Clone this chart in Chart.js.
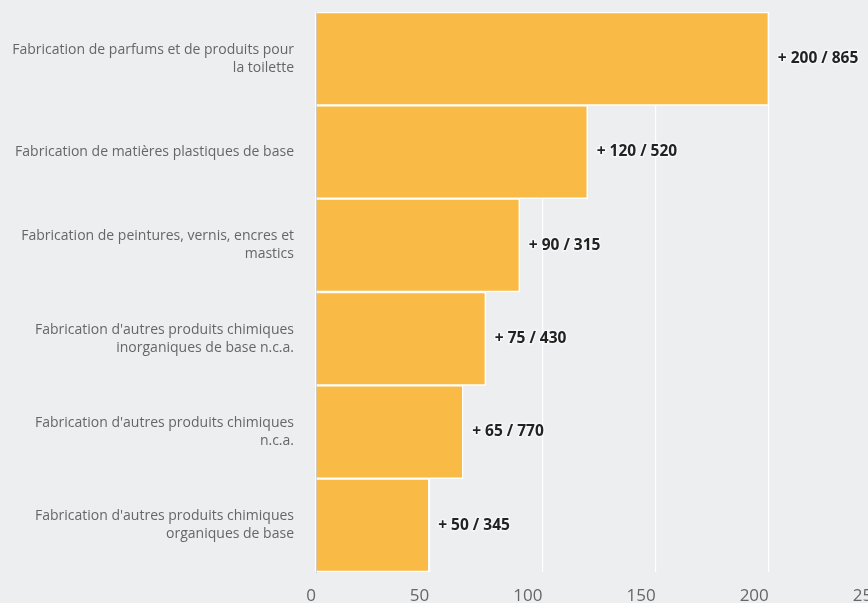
<!DOCTYPE html>
<html><head><meta charset="utf-8">
<script src="https://cdn.jsdelivr.net/npm/chart.js@4.4.0/dist/chart.umd.min.js"></script>
<style>
html,body{margin:0;padding:0;background:#edeef0;overflow:hidden;}
#wrap{width:900px;height:603px;position:relative;}
</style></head><body>
<div id="wrap"><canvas id="c" width="900" height="603"></canvas></div>
<script>
const categories = [
  ["Fabrication de parfums et de produits pour", "la toilette"],
  ["Fabrication de matières plastiques de base"],
  ["Fabrication de peintures, vernis, encres et", "mastics"],
  ["Fabrication d'autres produits chimiques", "inorganiques de base n.c.a."],
  ["Fabrication d'autres produits chimiques", "n.c.a."],
  ["Fabrication d'autres produits chimiques", "organiques de base"]
];
const increases = [200, 120, 90, 75, 65, 50];
const totals = [865, 520, 315, 430, 770, 345];
const xTicks = [0, 50, 100, 150, 200, 250];

const valueLabels = {
  id: 'valueLabels',
  afterDatasetsDraw(chart) {
    const ctx = chart.ctx;
    const meta = chart.getDatasetMeta(0);
    ctx.save();
    ctx.font = '700 15.5px "Open Sans"';
    ctx.textBaseline = 'middle';
    ctx.textAlign = 'left';
    meta.data.forEach((bar, i) => {
      const txt = '+ ' + increases[i] + ' / ' + totals[i];
      ctx.lineWidth = 3;
      ctx.strokeStyle = 'rgba(255,255,255,0.45)';
      ctx.strokeText(txt, bar.x + 9, bar.y);
      ctx.fillStyle = '#222222';
      ctx.fillText(txt, bar.x + 9, bar.y);
    });
    ctx.restore();
  }
};

new Chart(document.getElementById('c'), {
  type: 'bar',
  data: {
    labels: categories,
    datasets: [{
      data: increases,
      backgroundColor: '#f9bb45',
      borderColor: '#ffffff',
      borderWidth: 1.5,
      categoryPercentage: 1,
      barPercentage: 1
    }]
  },
  options: {
    indexAxis: 'y',
    responsive: false,
    animation: false,
    layout: { padding: { top: 12, left: 0, right: 18, bottom: 0 } },
    plugins: { legend: { display: false }, tooltip: { enabled: false } },
    scales: {
      x: {
        min: 0, max: 250,
        afterBuildTicks(scale) { scale.ticks = xTicks.map(v => ({ value: v })); },
        grid: { color: '#ffffff', lineWidth: 1.2, drawTicks: false },
        border: { display: false },
        ticks: { color: '#666666', font: { family: '"Open Sans"', size: 17 }, padding: 14, align: 'end', autoSkip: false, maxRotation: 0 },
        afterFit(scale) { scale.height = 31; scale.paddingLeft = 0; scale.paddingRight = 0; }
      },
      y: {
        grid: { display: false, drawTicks: false },
        border: { display: true, color: '#c9d2e3', width: 1 },
        ticks: { color: '#666666', font: { family: '"Open Sans"', size: 14, lineHeight: 1.3 }, padding: 22 },
        afterFit(scale) { scale.width = 316; scale.paddingTop = 0; scale.paddingBottom = 0; }
      }
    }
  },
  plugins: [valueLabels]
});
</script>
</body></html>
